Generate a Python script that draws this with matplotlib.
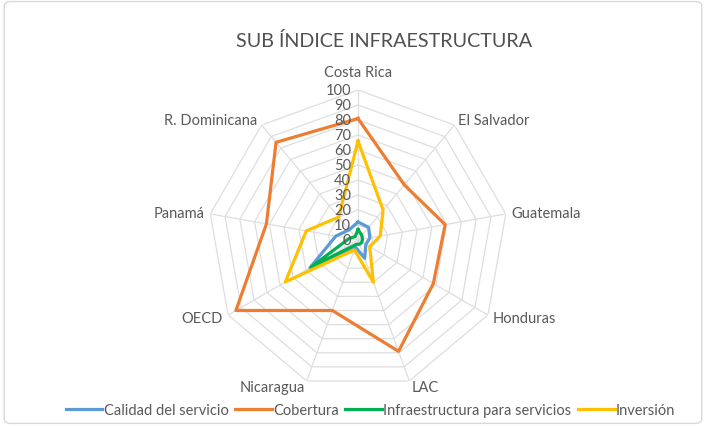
import numpy as np
import matplotlib
matplotlib.use('Agg')
import matplotlib.pyplot as plt
from matplotlib.patches import FancyBboxPatch

plt.rcParams['font.family'] = ['Lato', 'DejaVu Sans']

categories = ['Costa Rica', 'El Salvador', 'Guatemala', 'Honduras', 'LAC',
              'Nicaragua', 'OECD', 'Panamá', 'R. Dominicana']
calidad = [12, 11, 8, 6, 13, 5, 37, 15, 9]
cobertura = [81, 48, 59, 58, 79, 50, 94, 62, 85]
infraestructura = [7, 4, 3, 3, 3, 3, 36, 6, 3]
inversion = [66, 26, 15, 9, 30, 7, 56, 35, 20]
series_names = ['Calidad del servicio', 'Cobertura',
                'Infraestructura para servicios', 'Inversión']
colors = ['#5B9BD5', '#ED7D31', '#00B050', '#FFC000']
ticks = list(range(0, 101, 10))

N = len(categories)
angles = np.arange(N) * 2 * np.pi / N
closed = np.append(angles, angles[0])

fig = plt.figure(figsize=(7.06, 4.27), dpi=100)
fig.patches.append(FancyBboxPatch((0.006, 0.006), 0.988, 0.988,
                                  boxstyle='round,pad=0,rounding_size=0.01',
                                  transform=fig.transFigure, fill=False,
                                  edgecolor='#D9D9D9', linewidth=1))

ax = fig.add_axes([0.2946, 0.0843, 0.425, 0.7026], projection='polar')
ax.set_theta_zero_location('N')
ax.set_theta_direction(-1)
ax.set_ylim(0, 100)
ax.grid(False)
ax.spines['polar'].set_visible(False)
ax.set_xticks([])
ax.set_yticks([])
ax.patch.set_alpha(0)

# polygon gridlines + spokes
for t in ticks[1:]:
    ax.plot(closed, [t] * (N + 1), color='#DEDEDE', lw=0.9, zorder=1)
for a in angles:
    ax.plot([a, a], [0, 100], color='#DEDEDE', lw=0.9, zorder=1)

for vals, name, c in zip([calidad, cobertura, infraestructura, inversion],
                         series_names, colors):
    ax.plot(closed, vals + vals[:1], color=c, lw=2.3, label=name, zorder=3)

# radial labels along the first axis
for t in ticks:
    ax.annotate(str(t), xy=(0, t), xytext=(-5, 0), textcoords='offset points',
                ha='right', va='center', fontsize=10.5, color='#595959',
                zorder=4)

# category labels
for a, lab in zip(angles, categories):
    s = np.sin(a)
    if abs(s) < 1e-6:
        ax.text(a, 112, lab, ha='center', va='center', fontsize=10.5,
                color='#595959')
    else:
        ax.text(a, 104, lab, ha='left' if s > 0 else 'right', va='center',
                fontsize=10.5, color='#595959')

fig.text(0.544, 0.905, 'SUB ÍNDICE INFRAESTRUCTURA', ha='center', va='center',
         fontsize=14.2, color='#505050')

fig.legend(loc='lower center', bbox_to_anchor=(0.525, -0.01), ncol=4,
           frameon=False, fontsize=10.5, handlelength=2.5, handletextpad=0.1,
           columnspacing=0.45, labelcolor='#595959')

fig.savefig('out.png', dpi=100)
